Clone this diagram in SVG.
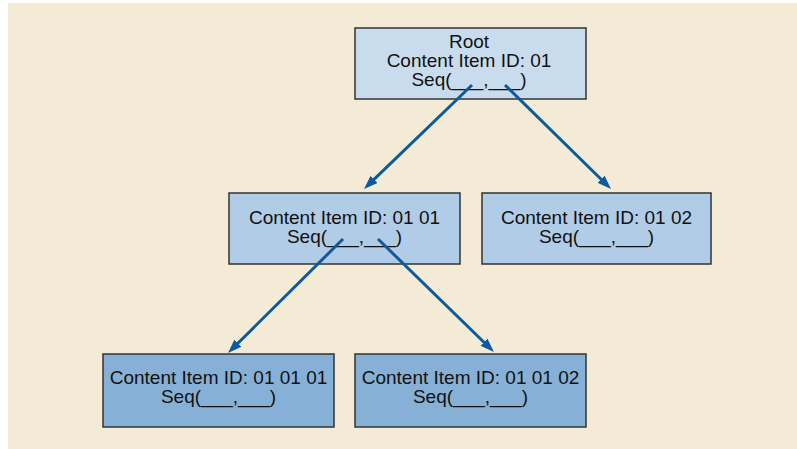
<svg xmlns="http://www.w3.org/2000/svg" width="797" height="449" viewBox="0 0 797 449">
  <defs>
    <style>
      .box { stroke: #333333; stroke-width: 1.5; }
      .l1 { fill: #c9dcee; }
      .l2 { fill: #b1cce6; }
      .l3 { fill: #87b0d7; }
      .t { font-family: "Liberation Sans", Arial, sans-serif; font-size: 19px; fill: #111111; text-anchor: middle; }
      .conn { stroke: #0e5b9b; stroke-width: 3; fill: none; marker-end: url(#arrow); }
    </style>
    <marker id="arrow" markerWidth="14" markerHeight="10" refX="4" refY="5" orient="auto" markerUnits="userSpaceOnUse">
      <path d="M0,0 L14,5 L0,10 z" fill="#0e5b9b"/>
    </marker>
  </defs>
  <rect x="8" y="3" width="789" height="446" fill="#f3ebd5"/>

  <g id="root">
    <rect class="box l1" x="355" y="28" width="231" height="71"/>
    <text class="t" x="469" y="48">Root</text>
    <text class="t" x="469" y="67">Content Item ID: 01</text>
    <text class="t" x="469" y="86">Seq(___,___)</text>
  </g>
  <g id="n0101">
    <rect class="box l2" x="229" y="193" width="231" height="71"/>
    <text class="t" x="344.5" y="224">Content Item ID: 01 01</text>
    <text class="t" x="344.5" y="243">Seq(___,___)</text>
  </g>
  <g id="n0102">
    <rect class="box l2" x="482" y="193" width="229" height="71"/>
    <text class="t" x="596.5" y="224">Content Item ID: 01 02</text>
    <text class="t" x="596.5" y="243">Seq(___,___)</text>
  </g>
  <g id="n010101">
    <rect class="box l3" x="103" y="354" width="231" height="73"/>
    <text class="t" x="218.5" y="384">Content Item ID: 01 01 01</text>
    <text class="t" x="218.5" y="403">Seq(___,___)</text>
  </g>
  <g id="n010102">
    <rect class="box l3" x="355" y="354" width="231" height="73"/>
    <text class="t" x="470.5" y="384">Content Item ID: 01 01 02</text>
    <text class="t" x="470.5" y="403">Seq(___,___)</text>
  </g>

  <g id="connectors">
    <path class="conn" d="M472,85 L371.2,182.1"/>
    <path class="conn" d="M505,85 L603.9,182"/>
    <path class="conn" d="M343,239 L235.1,346"/>
    <path class="conn" d="M378,239 L486.8,345"/>
  </g>
</svg>
